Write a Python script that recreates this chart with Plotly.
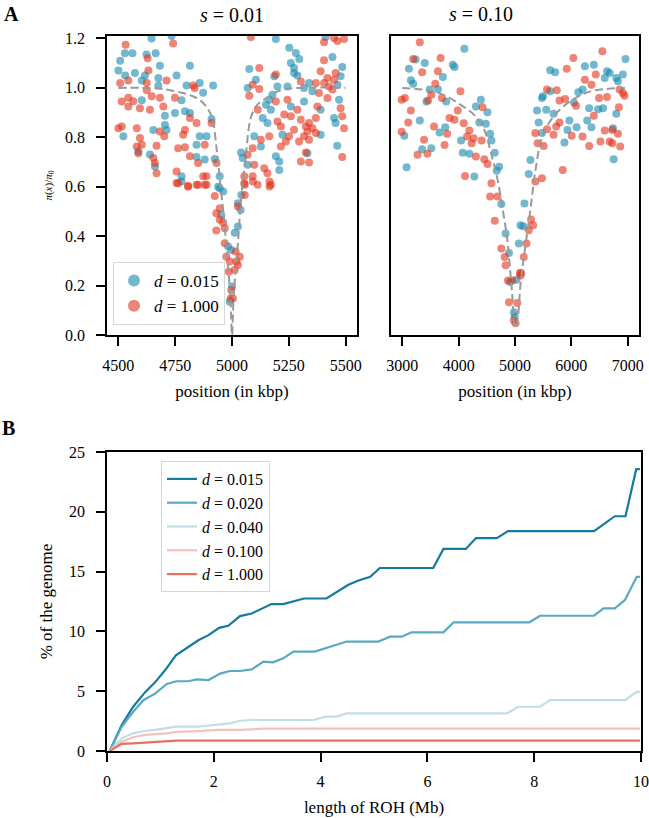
import plotly.graph_objects as go

# ---- panel A, s = 0.01 : scatter (position kbp, pi(x)/pi0) ----
a1_blue_x = [4646, 4734, 4529, 4562, 4624, 4664, 4508, 4500, 4683, 4815, 4530, 4573, 4617, 4676,
             4756, 4603, 4676, 4800, 4858, 4917, 4873, 4603, 4778, 4705, 4749, 4793, 4815, 4910,
             4522, 4654, 4705, 4712, 4858, 4888, 4844, 4588, 4639, 4661, 4844, 4880, 4924, 4778,
             4946, 4939,
             5193, 5412, 5252, 5281, 5296, 5442, 5259, 5273, 5076, 5485, 5273, 5288, 5186, 5478,
             5105, 5069, 5200, 5244, 5339, 5317, 5464, 5354, 5178, 5164, 5149, 5317, 5471, 5171,
             5259, 5390, 5135, 5449, 5156, 5456, 5098, 5222, 5390, 5127, 5463, 5040, 5332, 5193,
             5047, 5208, 5208, 5069,
             4778, 4946, 4961, 5041, 5026, 5038, 4953, 5012, 5026, 4997, 4983, 5000, 4990]
a1_blue_y = [1.20, 1.21, 1.14, 1.14, 1.135, 1.14, 1.11, 1.07, 1.09, 1.09, 1.05, 1.06, 1.05, 1.04,
             1.05, 1.03, 1.01, 1.01, 1.02, 1.01, 0.98, 0.95, 0.95, 0.887, 0.898, 0.905, 0.898, 0.874,
             0.804, 0.83, 0.85, 0.83, 0.804, 0.804, 0.77, 0.743, 0.73, 0.682, 0.72, 0.71, 0.712, 0.642,
             0.642, 0.60,
             1.198, 1.206, 1.162, 1.141, 1.117, 1.125, 1.101, 1.081, 1.076, 1.085, 1.06, 1.05, 1.047, 1.047,
             1.033, 1.0, 1.006, 1.006, 1.02, 1.0, 1.013, 0.986, 0.972, 0.952, 0.932, 0.945, 0.952, 0.912,
             0.925, 0.912, 0.878, 0.878, 0.858, 0.858, 0.804, 0.81, 0.81, 0.763, 0.766, 0.739, 0.736, 0.723,
             0.716, 0.702, 0.668, 0.689,
             0.621, 0.594, 0.581, 0.567, 0.533, 0.506, 0.486, 0.414, 0.439, 0.344, 0.358, 0.196, 0.135]

a1_red_x = [4741, 4532, 4629, 4632, 4508, 4544, 4625, 4712, 4829, 4836, 4625, 4515, 4544, 4566,
            4647, 4683, 4749, 4544, 4595, 4639, 4698, 4815, 4844, 4910, 4500, 4515, 4581, 4683,
            4702, 4793, 4785, 4880, 4595, 4603, 4581, 4668, 4763, 4793, 4815, 4588, 4654, 4661,
            4668, 4851, 4932, 4756, 4763, 4807, 4844, 4873, 4888, 4880,
            5083, 5449, 5493, 5405, 5464, 5405, 5120, 5193, 5390, 5456, 5420, 5449, 5091, 5120,
            5303, 5369, 5405, 5427, 5383, 5442, 5076, 5244, 5193, 5420, 5113, 5288, 5376, 5478,
            5230, 5259, 5200, 5303, 5339, 5369, 5485, 5215, 5325, 5354, 5493, 5273, 5127, 5164,
            5251, 5317, 5332, 5369, 5237, 5295, 5339, 5215, 5091, 5069, 5325, 5485, 5303, 5339,
            5142, 5098, 5156, 5091, 5054, 5054, 5171, 5113,
            4756, 4807, 4851, 4888, 4924, 5056, 5092, 5165, 5165, 5056, 5026, 4946, 4931, 4946,
            4961, 4931, 4968, 4968, 4975, 5016, 5034, 4990, 5019, 5026, 5012, 4986, 4997, 4994, 5004]
a1_red_y = [1.18, 1.175, 1.12, 1.07, 1.02, 1.03, 1.02, 1.03, 1.01, 1.0, 0.99, 0.945, 0.96, 0.946,
            0.966, 0.96, 0.96, 0.925, 0.918, 0.912, 0.925, 0.878, 0.858, 0.858, 0.837, 0.844, 0.837, 0.824,
            0.804, 0.83, 0.81, 0.77, 0.797, 0.77, 0.763, 0.766, 0.756, 0.76, 0.723, 0.736, 0.716, 0.696,
            0.655, 0.696, 0.696, 0.662, 0.614, 0.60, 0.608, 0.642, 0.642, 0.608,
            1.206, 1.202, 1.198, 1.185, 1.19, 1.112, 1.081, 1.054, 1.067, 1.06, 1.04, 1.033, 1.013, 0.996,
            1.026, 1.02, 1.02, 1.006, 0.979, 0.993, 0.968, 0.952, 0.945, 0.959, 0.912, 0.912, 0.925, 0.918,
            0.892, 0.885, 0.864, 0.871, 0.858, 0.878, 0.885, 0.844, 0.844, 0.837, 0.837, 0.831, 0.79, 0.804,
            0.804, 0.804, 0.824, 0.817, 0.783, 0.783, 0.79, 0.763, 0.756, 0.729, 0.739, 0.72, 0.702, 0.698,
            0.675, 0.689, 0.655, 0.642, 0.642, 0.614, 0.608, 0.608,
            0.615, 0.604, 0.608, 0.608, 0.563, 0.608, 0.621, 0.601, 0.621, 0.567, 0.52, 0.513, 0.493, 0.466,
            0.455, 0.423, 0.432, 0.371, 0.317, 0.338, 0.317, 0.297, 0.297, 0.283, 0.263, 0.256, 0.182, 0.148, 0.148]

a1_curve_x = [4500, 4600, 4700, 4780, 4830, 4860, 4890, 4912, 4934, 4952, 4965, 4975, 4985, 4993, 5000,
              5007, 5015, 5025, 5040, 5060, 5083, 5110, 5142, 5213, 5300, 5500]
a1_curve_y = [1.0, 1.0, 0.995, 0.98, 0.965, 0.95, 0.92, 0.88, 0.74, 0.58, 0.47, 0.36, 0.25, 0.15, 0.0,
              0.15, 0.25, 0.36, 0.55, 0.72, 0.88, 0.93, 0.953, 0.99, 1.0, 1.0]

# ---- panel A, s = 0.10 ----
a2_blue_x = [4102, 3235, 3399, 3118, 3897, 3926, 3721, 3153, 3194, 3487, 3633, 3428, 3780, 4395,
             4307, 4512, 3311, 4366, 4483, 3036, 3762, 3662, 4043, 4559, 4582, 3352, 3516, 4073,
             4190, 4641, 4717, 4676, 3077, 4278, 4758, 4834, 4893, 4910, 5027, 4981, 4993,
             6960, 6240, 6398, 5625, 5713, 6633, 6680, 6592, 6914, 6797, 6826, 5625, 5496, 5478,
             6199, 6123, 6047, 6316, 6474, 6562, 5391, 5555, 5684, 6797, 5420, 5965, 6281, 5930,
             6093, 6357, 6738, 5478, 5877, 5274, 5244, 6750, 5168, 5098, 5145, 5068]
a2_blue_y = [1.158, 1.115, 1.101, 1.077, 1.094, 1.085, 1.044, 1.031, 1.017, 0.993, 0.995, 0.945, 0.945, 0.952,
             0.925, 0.901, 0.868, 0.86, 0.855, 0.806, 0.841, 0.819, 0.787, 0.814, 0.787, 0.752, 0.756, 0.738,
             0.733, 0.738, 0.681, 0.665, 0.679, 0.641, 0.53, 0.411, 0.332, 0.214, 0.224, 0.092, 0.075,
             1.117, 1.088, 1.094, 1.071, 1.063, 1.067, 1.06, 1.04, 1.054, 1.04, 1.027, 0.986, 0.966, 0.959,
             0.993, 0.982, 0.941, 0.918, 0.914, 0.918, 0.909, 0.912, 0.895, 0.895, 0.86, 0.868, 0.868, 0.83,
             0.841, 0.841, 0.837, 0.817, 0.779, 0.708, 0.652, 0.711, 0.532, 0.444, 0.44, 0.37]

a2_red_x = [3311, 3194, 3680, 3352, 3633, 3586, 4032, 3516, 2989, 3047, 3458, 3704, 3153, 3985,
            4424, 3106, 3838, 3926, 4090, 2989, 3563, 3797, 4190, 4149, 4266, 4231, 4407, 3387,
            3750, 3270, 3446, 4307, 4454, 4512, 4114, 4582, 4559, 4688, 4641, 4758, 4817, 4834,
            4875, 4951, 5086, 5098, 4893, 5039, 4981, 5010,
            6035, 6550, 5918, 6433, 6240, 6357, 6855, 5567, 5742, 5789, 5889, 6492, 6633, 6914,
            6943, 6082, 6843, 6398, 5789, 5730, 5567, 6592, 5361, 5684, 6006, 6199, 6726, 6826,
            6316, 6515, 6680, 6726, 6867, 5402, 5508, 5478, 5361, 5847, 5285, 5320, 5244, 5203,
            5156, 5109]
a2_red_y = [1.185, 1.117, 1.121, 1.063, 1.067, 1.017, 0.986, 0.972, 0.952, 0.959, 0.949, 0.959, 0.909, 0.909,
            0.922, 0.86, 0.878, 0.871, 0.857, 0.823, 0.844, 0.814, 0.828, 0.803, 0.796, 0.776, 0.787, 0.79,
            0.769, 0.729, 0.733, 0.722, 0.711, 0.692, 0.643, 0.614, 0.56, 0.56, 0.462, 0.35, 0.316, 0.282,
            0.221, 0.221, 0.251, 0.241, 0.133, 0.129, 0.059, 0.048,
            1.121, 1.148, 1.077, 1.054, 1.033, 1.013, 0.993, 0.993, 0.99, 0.949, 0.955, 0.959, 0.963, 0.979,
            0.968, 0.928, 0.922, 0.887, 0.86, 0.844, 0.833, 0.828, 0.817, 0.81, 0.806, 0.803, 0.83, 0.814,
            0.765, 0.783, 0.783, 0.776, 0.763, 0.776, 0.765, 0.634, 0.621, 0.668, 0.467, 0.444, 0.424, 0.37,
            0.316, 0.251]

a2_curve_x = [3000, 3460, 3750, 4045, 4280, 4455, 4570, 4690, 4780, 4855, 4915, 4955, 5000,
              5043, 5100, 5190, 5275, 5365, 5480, 5685, 5975, 6330, 6950]
a2_curve_y = [1.0, 0.99, 0.97, 0.93, 0.89, 0.83, 0.74, 0.63, 0.51, 0.40, 0.26, 0.15, 0.03,
              0.06, 0.21, 0.37, 0.51, 0.67, 0.80, 0.885, 0.945, 0.985, 1.0]

# ---- panel B: cumulative ROH length ----
roh_labels = ["0.015", "0.020", "0.040", "0.100", "1.000"]
roh_colors = ["#157a9e", "#5aa9c3", "#bfdfe7", "#f3c2bd", "#e8705e"]

roh_015_x = [0.05, 0.275, 0.49, 0.71, 0.90, 1.09, 1.29, 1.49, 1.71, 1.90, 2.10, 2.27, 2.49, 2.71,
             2.90, 3.08, 3.30, 3.49, 3.69, 4.11, 4.52, 4.71, 4.93, 5.11, 6.11, 6.30, 6.72, 6.91,
             7.30, 7.51, 9.12, 9.51, 9.71, 9.91, 9.98]
roh_015_y = [0, 2.17, 3.7, 4.9, 5.74, 6.77, 8.0, 8.63, 9.26, 9.69, 10.3, 10.47, 11.28, 11.5,
             11.9, 12.28, 12.28, 12.53, 12.75, 12.75, 13.9, 14.26, 14.56, 15.3, 15.3, 16.9, 16.9, 17.8,
             17.8, 18.38, 18.38, 19.63, 19.63, 23.56, 23.56]
roh_020_x = [0.05, 0.275, 0.49, 0.68, 0.90, 1.12, 1.30, 1.52, 1.68, 1.90, 2.12, 2.30, 2.49, 2.71,
             2.93, 3.11, 3.30, 3.49, 3.89, 4.11, 4.30, 4.49, 5.08, 5.30, 5.52, 5.70, 6.30, 6.49,
             7.91, 8.11, 9.12, 9.30, 9.51, 9.70, 9.92, 9.98]
roh_020_y = [0, 2.03, 3.28, 4.25, 4.8, 5.6, 5.83, 5.83, 5.99, 5.93, 6.47, 6.69, 6.69, 6.82,
             7.48, 7.42, 7.75, 8.31, 8.31, 8.6, 8.87, 9.15, 9.15, 9.56, 9.56, 9.92, 9.92, 10.76,
             10.76, 11.31, 11.31, 11.93, 11.93, 12.63, 14.56, 14.56]
roh_040_x = [0.05, 0.275, 0.49, 0.71, 0.90, 1.12, 1.30, 1.68, 1.90, 2.09, 2.30, 2.49, 2.71, 3.86,
             4.11, 4.30, 4.49, 7.49, 7.70, 8.11, 8.30, 9.70, 9.92, 9.98]
roh_040_y = [0, 1.06, 1.48, 1.67, 1.76, 1.9, 2.03, 2.03, 2.12, 2.17, 2.31, 2.53, 2.59, 2.59,
             2.87, 2.87, 3.14, 3.14, 3.7, 3.7, 4.25, 4.25, 4.95, 4.95]
roh_100_x = [0.05, 0.275, 0.49, 0.71, 1.12, 1.30, 1.68, 2.09, 2.49, 2.71, 2.93, 9.98]
roh_100_y = [0, 0.78, 1.15, 1.35, 1.48, 1.6, 1.67, 1.76, 1.76, 1.84, 1.87, 1.87]
roh_1000_x = [0.05, 0.18, 0.275, 0.49, 0.71, 1.12, 1.30, 9.98]
roh_1000_y = [0, 0.38, 0.6, 0.64, 0.7, 0.78, 0.86, 0.86]

BLUE = "rgba(21,137,175,0.6)"
RED = "rgba(227,50,25,0.6)"
FONT = "Liberation Serif"

# figure fills the whole window; the page margin is removed in post_script below
W, H = 649, 818


def fx(px):
    return px / W


def fy(py):
    return 1 - py / H


def font(size):
    return dict(family=FONT, size=size, color="black")


fig = go.Figure()

# scatter panels
for xa, ya, bx, by, rx, ry, cx, cy, leg in [
    ("x", "y", a1_blue_x, a1_blue_y, a1_red_x, a1_red_y, a1_curve_x, a1_curve_y, True),
    ("x2", "y2", a2_blue_x, a2_blue_y, a2_red_x, a2_red_y, a2_curve_x, a2_curve_y, False),
]:
    fig.add_trace(go.Scatter(x=bx, y=by, xaxis=xa, yaxis=ya, mode="markers",
                             marker=dict(size=8, color=BLUE, line=dict(width=0)),
                             name="<i>d</i> = 0.015", showlegend=leg, legend="legend"))
    fig.add_trace(go.Scatter(x=rx, y=ry, xaxis=xa, yaxis=ya, mode="markers",
                             marker=dict(size=8, color=RED, line=dict(width=0)),
                             name="<i>d</i> = 1.000", showlegend=leg, legend="legend"))
    fig.add_trace(go.Scatter(x=cx, y=cy, xaxis=xa, yaxis=ya, mode="lines",
                             line=dict(color="#999999", width=2, dash="8px,4px", shape="spline"),
                             showlegend=False, hoverinfo="skip"))

# ROH lines
roh_x = [roh_015_x, roh_020_x, roh_040_x, roh_100_x, roh_1000_x]
roh_y = [roh_015_y, roh_020_y, roh_040_y, roh_100_y, roh_1000_y]
for lab, col, xs, ys in zip(roh_labels, roh_colors, roh_x, roh_y):
    fig.add_trace(go.Scatter(x=xs, y=ys, xaxis="x3", yaxis="y3", mode="lines",
                             line=dict(color=col, width=2.2),
                             name="<i>d</i> = " + lab, legend="legend2"))

axis_style = dict(showline=True, linecolor="black", linewidth=1.5, mirror=True,
                  ticks="outside", ticklen=9, tickwidth=1.5, tickcolor="black",
                  showgrid=False, zeroline=False, automargin=False, tickfont=font(16))
xstyle = dict(axis_style, ticklabelstandoff=6)
ystyle = dict(axis_style, ticklabelstandoff=8)

top_dom = [fy(335), fy(36)]
bot_dom = [fy(751), fy(452)]

fig.update_layout(
    width=W, height=H,
    margin=dict(l=0, r=0, t=0, b=0),
    plot_bgcolor="white", paper_bgcolor="white",
    font=font(16),
    xaxis=dict(domain=[fx(107), fx(357)], anchor="y", range=[4450, 5550],
               tickvals=[4500, 4750, 5000, 5250, 5500],
               title=dict(text="position (in kbp)", font=font(17), standoff=12), **xstyle),
    yaxis=dict(domain=top_dom, anchor="x", range=[0, 1.21],
               tickvals=[0, 0.2, 0.4, 0.6, 0.8, 1.0, 1.2], tickformat=".1f",
               title=dict(text="<i>π</i>(<i>x</i>)/<i>π</i><sub>0</sub>", font=font(11), standoff=10),
               **ystyle),
    xaxis2=dict(domain=[fx(391), fx(639)], anchor="y2", range=[2800, 7200],
                tickvals=[3000, 4000, 5000, 6000, 7000],
                title=dict(text="position (in kbp)", font=font(17), standoff=12), **xstyle),
    yaxis2=dict(domain=top_dom, anchor="x2", range=[0, 1.21], matches="y",
                showline=True, linecolor="black", linewidth=1.5, mirror=True, automargin=False,
                showticklabels=False, ticks="", showgrid=False, zeroline=False),
    xaxis3=dict(domain=[fx(107), fx(641)], anchor="y3", range=[0, 10],
                tickvals=[0, 2, 4, 6, 8, 10],
                title=dict(text="length of ROH (Mb)", font=font(17), standoff=12), **xstyle),
    yaxis3=dict(domain=bot_dom, anchor="x3", range=[0, 25],
                tickvals=[0, 5, 10, 15, 20, 25],
                title=dict(text="% of the genome", font=font(17), standoff=12), **ystyle),
    legend=dict(x=fx(113), y=fy(262), xanchor="left", yanchor="top",
                bgcolor="rgba(255,255,255,0.85)", bordercolor="#d6d6d6", borderwidth=1,
                font=font(17), itemsizing="constant", tracegroupgap=0),
    legend2=dict(x=fx(161), y=fy(461), xanchor="left", yanchor="top",
                 bgcolor="rgba(255,255,255,0.85)", bordercolor="#d6d6d6", borderwidth=1,
                 font=font(16)),
    annotations=[
        dict(text="<i>s</i> = 0.01", x=fx(232), y=fy(15), xref="paper", yref="paper",
             yanchor="middle", showarrow=False, font=font(20)),
        dict(text="<i>s</i> = 0.10", x=fx(515), y=fy(14), xref="paper", yref="paper",
             yanchor="middle", showarrow=False, font=font(20)),
        dict(text="<b>A</b>", x=fx(2), y=fy(14), xref="paper", yref="paper",
             xanchor="left", yanchor="middle", showarrow=False, font=font(20)),
        dict(text="<b>B</b>", x=fx(0), y=fy(428), xref="paper", yref="paper",
             xanchor="left", yanchor="middle", showarrow=False, font=font(20)),
    ],
)

fig.write_html("out.html", config={"displayModeBar": False},
               post_script="document.body.style.margin='0px';document.body.style.overflow='hidden';")
